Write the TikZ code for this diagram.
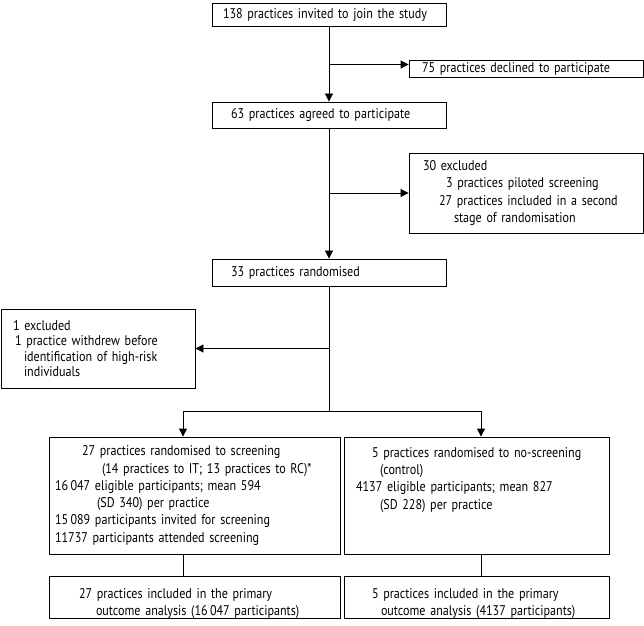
\documentclass[tikz,border=0pt]{standalone}
\usepackage{fontspec}
\setmainfont{PT Sans}[FakeStretch=0.86]
\usetikzlibrary{arrows.meta}

\begin{document}
\begin{tikzpicture}[
    box/.style={draw, line width=0.6pt, align=left, inner ysep=0pt, inner xsep=0.2cm, font=\fontsize{10}{12.3}\selectfont},
    bigbox/.style={box, inner xsep=0.1cm},
    flow/.style={line width=0.6pt, -{Triangle[length=0.2cm, width=0.2cm]}},
    link/.style={line width=0.6pt}
]
        \useasboundingbox (0,0) rectangle (16.1,-15.65);

        % main column
        \node[box, text width=5.45cm, minimum height=0.575cm] (invited) at (8.225,-0.3625)
            {\hspace*{0.075cm}138 practices invited to join the study};
        \node[box, text width=5.45cm, minimum height=0.65cm] (agreed) at (8.225,-2.875)
            {\hspace*{0.275cm}63 practices agreed to participate};
        \node[box, text width=5.45cm, minimum height=0.675cm] (randomised) at (8.225,-6.8125)
            {\hspace*{0.275cm}33 practices randomised};

        % exclusions
        \node[box, text width=5.45cm, minimum height=0.425cm] (declined) at (13.15,-1.7125)
            {\hspace*{0.125cm}75 practices declined to participate};
        \node[box, text width=5.45cm, minimum height=2cm] (excluded) at (13.15,-4.825)
            {\hspace*{0.15cm}30 excluded\\
             \hspace*{0.725cm}3 practices piloted screening\\
             \hspace*{0.55cm}27 practices included in a second\\
             \hspace*{0.925cm}stage of randomisation};
        \node[box, text width=4.45cm, minimum height=1.975cm, font=\fontsize{10}{10.9}\selectfont] (withdrew) at (2.45,-8.7125)
            {\hspace*{0.1cm}1 excluded\\
             \hspace*{0.15cm}1 practice withdrew before\\
             \hspace*{0.375cm}identification of high-risk\\
             \hspace*{0.375cm}individuals};

        % arms
        \node[bigbox, text width=7.075cm, minimum height=2.925cm] (screening) at (4.8625,-12.3875)
            {\hspace*{0.725cm}27 practices randomised to screening\\
             \hspace*{1.225cm}(14 practices to IT; 13 practices to RC)*\\
             \hspace*{0.05cm}16\,047 eligible participants; mean 594\\
             \hspace*{1.1cm}(SD 340) per practice\\
             \hspace*{0.05cm}15\,089 participants invited for screening\\
             \hspace*{0.05cm}11737 participants attended screening};
        \node[bigbox, text width=6.425cm, minimum height=2.925cm] (control) at (11.9125,-12.3875)
            {\hspace*{0.6cm}5 practices randomised to no-screening\\
             \hspace*{0.8cm}(control)\\
             \hspace*{0.2cm}4137 eligible participants; mean 827\\
             \hspace*{0.8cm}(SD 228) per practice\\ ~\\ ~};
        \node[bigbox, text width=7.075cm, minimum height=0.925cm, text height=0.55cm] (screenout) at (4.8625,-14.9375)
            {\hspace*{0.65cm}27 practices included in the primary\\
             \hspace*{1.075cm}outcome analysis (16\,047 participants)};
        \node[bigbox, text width=6.425cm, minimum height=0.925cm, text height=0.55cm] (controlout) at (11.9125,-14.9375)
            {\hspace*{0.6cm}5 practices included in the primary\\
             \hspace*{0.825cm}outcome analysis (4137 participants)};

        \coordinate (lsplit) at (4.575,-10.275);
        \coordinate (rsplit) at (12.025,-10.275);

        \draw[flow] (invited) -- (agreed);
        \draw[flow] ([yshift=0.1cm]invited.south |- declined.west) -- ([yshift=0.1cm]declined.west);
        \draw[flow] (agreed) -- (randomised);
        \draw[flow] (agreed.south |- excluded.west) -- (excluded.west);
        \draw[flow] (randomised.south |- withdrew.east) -- (withdrew.east);
        \draw[link] (randomised.south) -- (randomised.south |- lsplit);
        \draw[link] (lsplit) -- (rsplit);
        \draw[flow] (lsplit) -- (lsplit |- screening.north);
        \draw[flow] (rsplit) -- (rsplit |- control.north);
        \draw[link] (lsplit |- screening.south) -- (lsplit |- screenout.north);
        \draw[link] (rsplit |- control.south) -- (rsplit |- controlout.north);
\end{tikzpicture}
\end{document}
